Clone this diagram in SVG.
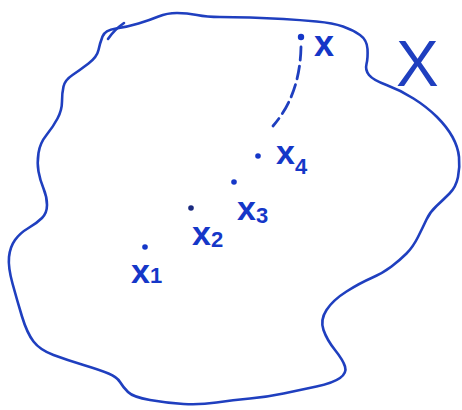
<svg xmlns="http://www.w3.org/2000/svg" width="462" height="410" viewBox="0 0 462 410">
<style>
.ink{fill:none;stroke:#1f3fbf;stroke-linecap:round;stroke-linejoin:round}
.lbl{font-family:"Liberation Sans",Arial,sans-serif;font-weight:bold;fill:#1537c8}
.big{font-family:"Liberation Sans",Arial,sans-serif;font-weight:normal;fill:#1f3fbf}
.pt{fill:#1537c8}
</style>
<rect width="462" height="410" fill="#fff"/>
<g id="set-X">
<path class="ink" stroke-width="2.6" d="M102.5,36.5 Q105,30 116,28.5 Q127,27 138.5,23.5 Q150,20 158.5,16.5 Q167,13 177,13 Q187,13 197,15 Q207,17 220,17 Q233,17 250,17.5 Q267,18 283.5,19 Q300,20 316.5,21.5 Q333,23 343,26.5 Q353,30 360,35 Q367,40 367.5,49 Q368,58 366.5,64 Q365,70 369,75 Q373,80 386.5,85 Q400,90 413.5,98.5 Q427,107 437,117 Q447,127 452.5,137 Q458,147 459,157 Q460,167 458,177 Q456,187 449.5,193.5 Q443,200 436.5,206 Q430,212 426.5,219.5 Q423,227 418,237 Q413,247 406.5,253.5 Q400,260 391.5,266.5 Q383,273 371.5,278 Q360,283 346.5,291.5 Q333,300 326.5,310 Q320,320 323.5,330 Q327,340 335,350 Q343,360 345,366.5 Q347,373 340,378 Q333,383 316.5,386.5 Q300,390 283.5,393.5 Q267,397 250,398.5 Q233,400 216.5,402.5 Q200,405 183.5,404 Q167,403 150,400 Q133,397 128,392 Q123,387 120,382 Q117,377 108.5,373.5 Q100,370 83.5,365 Q67,360 53.5,355 Q40,350 33.5,341.5 Q27,333 22,316.5 Q17,300 12.5,283.5 Q8,267 9,257 Q10,247 15,240 Q20,233 28.5,228 Q37,223 42,218 Q47,213 47,205 Q47,197 43.5,188.5 Q40,180 38.5,171.5 Q37,163 38.5,153 Q40,143 46.5,135 Q53,127 57.5,118.5 Q62,110 62,101.5 Q62,93 63.5,86.5 Q65,80 72.5,75 Q80,70 88.5,63.5 Q97,57 98.5,50 Q100,43 102.5,36.5 Z"/>
<path class="ink" stroke-width="2.6" d="M108,39 Q114,30 124,23"/>
<text class="big" x="396" y="86" font-size="64">X</text>
</g>
<g id="connectors">
<path class="ink" stroke-width="2.8" stroke-dasharray="13 6" d="M301,47 Q300,95 273,126"/>
</g>
<g id="point-x">
<circle class="pt" cx="301" cy="37" r="3.2"/>
<text class="lbl" x="314" y="56" font-size="36">x</text>
</g>
<g id="point-x4">
<circle class="pt" cx="258" cy="156" r="2.8"/>
<text class="lbl" x="276" y="164" font-size="34">x<tspan font-size="22" dy="10">4</tspan></text>
</g>
<g id="point-x3">
<circle class="pt" cx="234" cy="182" r="2.8"/>
<text class="lbl" x="237" y="220" font-size="34">x<tspan font-size="22" dy="3">3</tspan></text>
</g>
<g id="point-x2">
<circle fill="#1a2a80" cx="191" cy="208" r="2.8"/>
<text class="lbl" x="192" y="245" font-size="34">x<tspan font-size="22" dy="2">2</tspan></text>
</g>
<g id="point-x1">
<circle class="pt" cx="145" cy="247" r="2.8"/>
<text class="lbl" x="131" y="283" font-size="34">x<tspan font-size="22" dy="0">1</tspan></text>
</g>
</svg>
